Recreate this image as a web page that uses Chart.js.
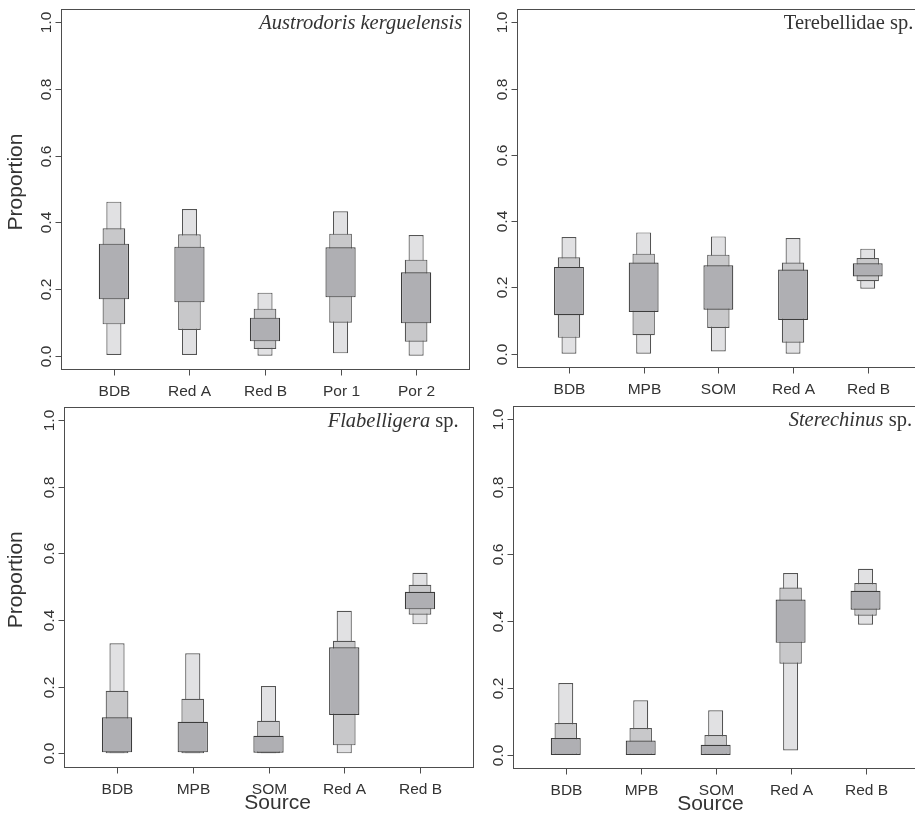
<!DOCTYPE html>
<html>
<head>
<meta charset="utf-8">
<title>Source proportions</title>
<script src="https://cdn.jsdelivr.net/npm/chart.js@4.4.0/dist/chart.umd.min.js"></script>
<style>
  html, body { margin: 0; padding: 0; background: #fff; overflow: hidden; }
  #wrap { position: relative; width: 915px; height: 820px; overflow: hidden; background: #fff; }
  canvas { position: absolute; }
</style>
</head>
<body>
<div id="wrap">
  <canvas id="c1" width="480" height="410" style="left:0;top:0"></canvas>
  <canvas id="c2" width="460" height="410" style="left:470px;top:0"></canvas>
  <canvas id="c3" width="480" height="420" style="left:0;top:400px"></canvas>
  <canvas id="c4" width="460" height="420" style="left:470px;top:400px"></canvas>
</div>
<script>
const yTicks = [0, 0.2, 0.4, 0.6, 0.8, 1.0];

const sourcesA = ['BDB', 'Red A', 'Red B', 'Por 1', 'Por 2'];
const sourcesB = ['BDB', 'MPB', 'SOM', 'Red A', 'Red B'];

// credible intervals [low, high] per source: 95%, 75%, 50%
const austro95 = [[0.002, 0.462], [0.002, 0.440], [0.000, 0.189], [0.007, 0.433], [0.000, 0.362]];
const austro75 = [[0.094, 0.382], [0.077, 0.364], [0.020, 0.141], [0.099, 0.366], [0.042, 0.288]];
const austro50 = [[0.169, 0.336], [0.160, 0.327], [0.043, 0.114], [0.175, 0.325], [0.097, 0.250]];

const tereb95 = [[0.000, 0.352], [0.000, 0.366], [0.007, 0.354], [0.000, 0.349], [0.196, 0.317]];
const tereb75 = [[0.048, 0.291], [0.056, 0.302], [0.078, 0.299], [0.033, 0.275], [0.219, 0.289]];
const tereb50 = [[0.116, 0.262], [0.126, 0.275], [0.133, 0.267], [0.102, 0.254], [0.233, 0.273]];

const flab95 = [[0.000, 0.330], [0.000, 0.300], [0.000, 0.202], [0.000, 0.428], [0.387, 0.542]];
const flab75 = [[0.000, 0.188], [0.000, 0.164], [0.000, 0.098], [0.024, 0.338], [0.416, 0.506]];
const flab50 = [[0.003, 0.108], [0.003, 0.095], [0.002, 0.053], [0.115, 0.318], [0.432, 0.485]];

const stere95 = [[0.000, 0.214], [0.000, 0.163], [0.000, 0.133], [0.013, 0.542], [0.388, 0.555]];
const stere75 = [[0.000, 0.095], [0.000, 0.080], [0.000, 0.059], [0.272, 0.499], [0.415, 0.512]];
const stere50 = [[0.000, 0.050], [0.000, 0.043], [0.000, 0.030], [0.334, 0.463], [0.433, 0.489]];

const SANS = '"Liberation Sans", Arial, sans-serif';
const SERIF = '"Liberation Serif", "Times New Roman", serif';

const toPoints = arr => arr.map((r, i) => ({ x: i + 1, y: r }));

function makeDatasets(i95, i75, i50) {
    return [
        { data: toPoints(i95), backgroundColor: '#e1e1e3', borderColor: '#545454', barPercentage: 0.2, order: 3 },
        { data: toPoints(i75), backgroundColor: '#c8c8ca', borderColor: '#545454', barPercentage: 0.3, order: 2 },
        { data: toPoints(i50), backgroundColor: '#afafb3', borderColor: '#3c3c3c', barPercentage: 0.4, order: 1 }
    ].map(d => Object.assign(d, {
        borderWidth: 1.2,
        borderSkipped: false,
        categoryPercentage: 1,
        grouped: false
    }));
}

// R-style frame, ticks, labels and species name
const rPlot = {
    id: 'rPlot',
    afterDraw(chart, args, opts) {
        const { ctx, chartArea: a, scales: { x, y } } = chart;
        const L = Math.round(a.left) + 0.5, R = Math.round(a.right) + 0.5;
        const T = Math.round(a.top) + 0.5, B = Math.round(a.bottom) + 0.5;
        ctx.save();
        ctx.strokeStyle = '#4d4d4d';
        ctx.lineWidth = 1;
        ctx.strokeRect(L, T, R - L, B - T);
        ctx.fillStyle = '#333';

        ctx.font = '15.5px ' + SANS;
        yTicks.forEach(v => {
            const py = Math.round(y.getPixelForValue(v)) + 0.5;
            ctx.beginPath(); ctx.moveTo(L - 6, py); ctx.lineTo(L, py); ctx.stroke();
            ctx.save();
            ctx.translate(L - 10.5, py);
            ctx.rotate(-Math.PI / 2);
            ctx.textAlign = 'center';
            ctx.textBaseline = 'alphabetic';
            ctx.fillText(v.toFixed(1), 0, 0);
            ctx.restore();
        });

        ctx.textAlign = 'center';
        ctx.textBaseline = 'alphabetic';
        opts.labels.forEach((lab, i) => {
            const px = Math.round(x.getPixelForValue(i + 1)) + 0.5;
            ctx.beginPath(); ctx.moveTo(px, B); ctx.lineTo(px, B + 6); ctx.stroke();
            ctx.fillText(lab, px, B + 26);
        });

        ctx.font = '21px ' + SANS;
        if (opts.ylab) {
            ctx.save();
            ctx.translate(22, (a.top + a.bottom) / 2 - 7);
            ctx.rotate(-Math.PI / 2);
            ctx.fillText('Proportion', 0, 0);
            ctx.restore();
        }
        if (opts.xlab) {
            ctx.fillText('Source', x.getPixelForValue(opts.xlabAt), B + 41.5);
        }

        // species name, right aligned, with italic parts
        const parts = opts.title;
        const fontOf = p => (p.it ? 'italic ' : '') + '20.5px ' + SERIF;
        let w = 0;
        parts.forEach(p => { ctx.font = fontOf(p); w += ctx.measureText(p.t).width; });
        let tx = x.getPixelForValue(opts.titleAt) - w;
        ctx.textAlign = 'left';
        parts.forEach(p => {
            ctx.font = fontOf(p);
            ctx.fillText(p.t, tx, a.top + 20);
            tx += ctx.measureText(p.t).width;
        });
        ctx.restore();
    }
};

function drawPanel(id, labels, sets, pad, extra) {
    new Chart(document.getElementById(id), {
        type: 'bar',
        data: { datasets: makeDatasets(sets[0], sets[1], sets[2]) },
        options: {
            responsive: false,
            animation: false,
            events: [],
            layout: { padding: pad },
            plugins: {
                legend: { display: false },
                tooltip: { enabled: false },
                rPlot: Object.assign({ labels: labels }, extra)
            },
            scales: {
                x: {
                    type: 'linear', display: false, min: 0.3, max: 5.7,
                    offset: false, grid: { offset: false },
                    afterBuildTicks: s => { s.ticks = labels.map((l, i) => ({ value: i + 1 })); }
                },
                y: { type: 'linear', display: false, min: -0.04, max: 1.04 }
            }
        },
        plugins: [rPlot]
    });
}

drawPanel('c1', sourcesA, [austro95, austro75, austro50],
    { left: 61, top: 9, right: 11, bottom: 41 },
    { ylab: true, titleAt: 5.61, title: [{ t: 'Austrodoris kerguelensis', it: true }] });

drawPanel('c2', sourcesB, [tereb95, tereb75, tereb50],
    { left: 46.7, top: 9, right: 10, bottom: 43 },
    { titleAt: 5.61, title: [{ t: 'Terebellidae sp.', it: false }] });

drawPanel('c3', sourcesB, [flab95, flab75, flab50],
    { left: 64, top: 6.7, right: 7, bottom: 53.3 },
    { ylab: true, xlab: true, xlabAt: 3.12, titleAt: 5.51,
      title: [{ t: 'Flabelligera', it: true }, { t: ' sp.', it: false }] });

drawPanel('c4', sourcesB, [stere95, stere75, stere50],
    { left: 43.3, top: 6, right: 12, bottom: 51.7 },
    { xlab: true, xlabAt: 2.93, titleAt: 5.62,
      title: [{ t: 'Sterechinus', it: true }, { t: ' sp.', it: false }] });
</script>
</body>
</html>
